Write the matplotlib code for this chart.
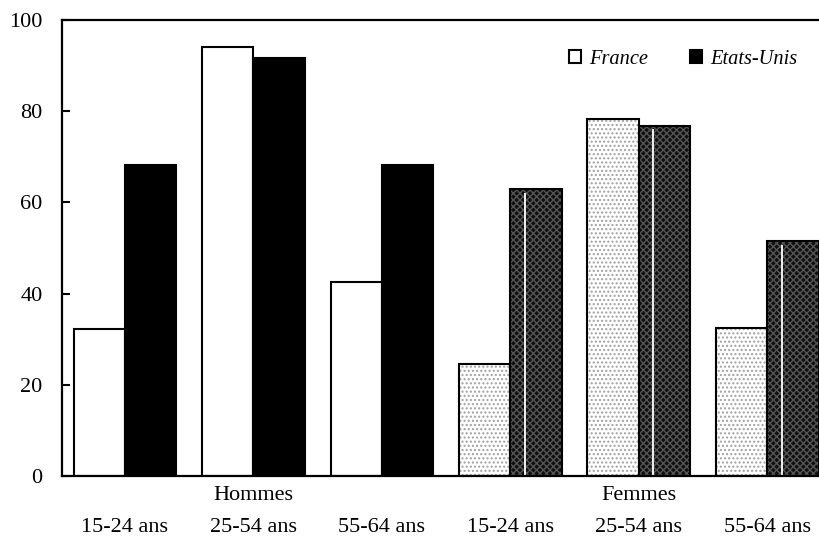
import numpy as np
import matplotlib.pyplot as plt

plt.rcParams['font.family'] = ['Liberation Serif', 'DejaVu Serif']

ages = ["15-24 ans", "25-54 ans", "55-64 ans"]
sexes = ["Hommes", "Femmes"]
france_hommes = [32.2, 94.1, 42.5]
usa_hommes = [68.2, 91.7, 68.2]
france_femmes = [24.6, 78.3, 32.5]
usa_femmes = [62.9, 76.8, 51.5]

fig = plt.figure(figsize=(8.2, 5.37), dpi=100)
ax = fig.add_axes([0.0756, 0.1136, 0.937, 0.8492])

w = 0.40
xh = np.arange(3)
xf = np.arange(3, 6)

# hommes: plain white / black
ax.bar(xh - w / 2, france_hommes, w, color="white", edgecolor="black", linewidth=1.5, label="France")
ax.bar(xh + w / 2, usa_hommes, w, color="black", edgecolor="black", linewidth=1.5, label="Etats-Unis")

# femmes: patterned fills, drawn then outlined
ax.bar(xf - w / 2, france_femmes, w, color="white", edgecolor="#a0a0a0", hatch="....", linewidth=0)
ax.bar(xf - w / 2, france_femmes, w, fill=False, edgecolor="black", linewidth=1.5)
ax.bar(xf + w / 2, usa_femmes, w, color="#101010", edgecolor="#555555", hatch="xxxxx", linewidth=0)
ax.bar(xf + w / 2, usa_femmes, w, fill=False, edgecolor="black", linewidth=1.5)
ax.vlines(xf + w / 2 - w * 0.5 + 0.11, 0, np.array(usa_femmes) - 0.8, color="white", linewidth=1.3)

ax.set_xlim(-0.49, 5.49)
ax.set_ylim(0, 100)
ax.set_yticks([0, 20, 40, 60, 80, 100])
ax.tick_params(axis="y", direction="in", length=6, width=1.5, labelsize=16, pad=14)
ax.set_xticks(np.arange(6))
ax.set_xticklabels(ages * 2, fontsize=16)
ax.tick_params(axis="x", length=0, pad=30)

for s in ["left", "bottom", "top"]:
    ax.spines[s].set_linewidth(1.6)
ax.spines["right"].set_visible(False)

for i, s in enumerate(sexes):
    ax.text(1 + 3 * i, -0.022, s, transform=ax.get_xaxis_transform(),
            ha="center", va="top", fontsize=16)

leg = ax.legend(loc="upper right", bbox_to_anchor=(0.981, 0.975), ncol=2, frameon=False,
                prop={"style": "italic", "size": 14.7}, handlelength=0.6, handleheight=0.6,
                handletextpad=0.4, columnspacing=2.05)

fig.savefig("out.png", dpi=100)
